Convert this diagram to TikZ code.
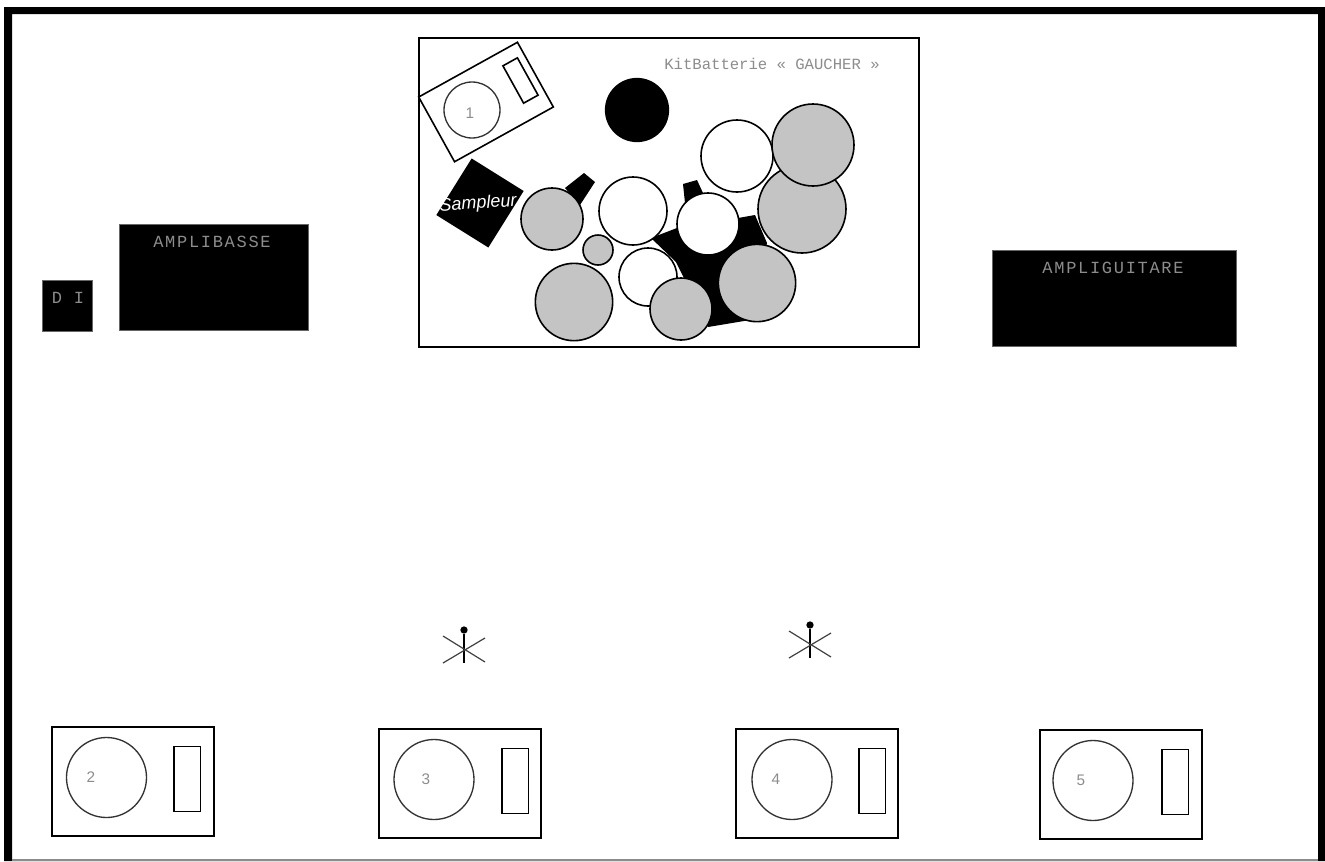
\documentclass[tikz,border=0pt]{standalone}
\usepackage{fontspec}
\usepackage{xcolor}
\usetikzlibrary{positioning}
\setmainfont{Liberation Serif}
\setsansfont{Liberation Sans}
\newfontfamily\ampfont[LetterSpace=10]{Liberation Mono}
\newfontfamily\kitfont{Liberation Mono}
\definecolor{drumgray}{HTML}{C4C4C4}
\definecolor{labelgray}{HTML}{8C8C8C}

\begin{document}
\begin{tikzpicture}[x=0.75pt,y=-0.75pt,line width=1.2pt,font=\fontsize{10.5pt}{12pt}\selectfont]
    \tikzstyle{disc}=[circle,draw,inner sep=0pt,line width=1.2pt]
    \tikzstyle{whitedrum}=[disc,fill=white]
    \tikzstyle{graydrum}=[disc,fill=drumgray]
    \tikzstyle{amp}=[fill=black,draw=black!60,line width=0.5pt,anchor=north west,inner sep=0pt]
    \tikzstyle{amptext}=[text=labelgray,font=\ampfont\fontsize{12.75pt}{14pt}\selectfont]
    \tikzstyle{num}=[text=labelgray,inner sep=0pt,font=\sffamily\fontsize{11.5pt}{13pt}\selectfont]
    \tikzstyle{cabinet}=[draw,line width=1.3pt,anchor=north west,inner sep=0pt,minimum width=121.5pt,minimum height=82pt]
    \tikzstyle{cone}=[circle,draw=black!80,inner sep=0pt,minimum size=60pt,line width=1pt]
    \tikzstyle{slot}=[draw,line width=1.3pt,anchor=north west,inner sep=0pt,minimum width=20pt,minimum height=48.75pt]
    % page and outer frame
    \useasboundingbox (0,0) rectangle (1325,861);
    \fill[black,even odd rule] (4,7) rectangle (1325,861) (12,14) rectangle (1318,861);
    \fill[black!45] (12,859) rectangle (1318,861);
    % drum kit
    \node[draw,line width=1.4pt,anchor=north west,inner sep=0pt,minimum width=375pt,minimum height=232pt] (kit) at (418,37) {};
    \node[text=labelgray,font=\kitfont\fontsize{11.7pt}{13pt}\selectfont] (kittitle) at (772,64) {KitBatterie « GAUCHER »};
    % sidefill on the riser
    \node[draw,rotate=29,inner sep=0pt,minimum width=84.7pt,minimum height=55.5pt] (side) at (486,102) {};
    \node[cone,minimum size=42pt] (sidecone) at (472,110) {};
    \node[num] (sidenum) at (470,113) {1};
    \node[draw,rotate=29,inner sep=0pt,minimum width=12.4pt,minimum height=32pt] (sideslot) at (520.5,80.5) {};
    % sampler
    \node[fill=black,rotate=-32,inner sep=0pt,minimum width=46pt,minimum height=50pt] (samp) at (480,203) {};
    \node[text=white,rotate=4,font=\sffamily\itshape\fontsize{13.5pt}{15pt}\selectfont] (samptext) at (478,204) {Sampleur};
    % hardware under the drums
    \fill (565,188) -- (584,173) -- (595,182) -- (580,205) -- cycle;
    \fill (683,184) -- (697,180) -- (703,193) -- (685,203) -- cycle;
    \fill (651,238) -- (677,228) -- (738,218) -- (755,215) -- (767,243) -- (750,320) -- (708,327) -- (676,262) -- cycle;
    \node[disc,fill=black,minimum size=47pt] (crash) at (637,110) {};
    \node[graydrum,minimum size=46.5pt] (tomA) at (552,219) {};
    \node[whitedrum,minimum size=51pt] (tomB) at (633,211) {};
    \node[graydrum,minimum size=22.5pt] (splash) at (598,250) {};
    \node[graydrum,minimum size=58pt] (floorA) at (574,302) {};
    \node[whitedrum,minimum size=43.5pt] (snare) at (648,277) {};
    \node[graydrum,minimum size=46.5pt] (hat) at (681,309) {};
    \node[whitedrum,minimum size=46.5pt] (tomC) at (708,224) {};
    \node[whitedrum,minimum size=54pt] (tomD) at (737,156) {};
    \node[graydrum,minimum size=66pt] (cymA) at (802,209) {};
    \node[graydrum,minimum size=61.5pt] (cymB) at (813,145) {};
    \node[graydrum,minimum size=58pt] (cymC) at (757,283) {};
    % amps
    \node[amp,minimum width=37.5pt,minimum height=38pt] (di) at (42,280) {};
    \node[amptext] (ditext) at (68,298) {D I};
    \node[amp,minimum width=141.75pt,minimum height=79.5pt] (bass) at (119,224) {};
    \node[amptext] (basstext) at (212,242) {AMPLIBASSE};
    \node[amp,minimum width=183pt,minimum height=72pt] (guitar) at (992,250) {};
    \node[amptext] (guitartext) at (1113,268) {AMPLIGUITARE};
    % wedges
    \foreach \n/\x/\y/\cx/\sx/\lx in {2/51/726/106.5/173/91,3/378/728/434/501/426,4/735/728/792/858/776,5/1039/729/1093/1161/1081} {
      \node[cabinet] (cab\n) at (\x,\y) {};
      \node[cone] (cone\n) at (\cx,\y+51.5) {};
      \node[slot] (slot\n) at (\sx,\y+19.5) {};
      \node[num] (num\n) at (\lx,\y+51) {\n};
    }
    % mics
    \foreach \m/\x/\y in {A/464/630,B/810/625} {
      \node[circle,fill=black,inner sep=0pt,minimum size=5.5pt] (mic\m) at (\x,\y) {};
      \coordinate (foot\m) at (\x,\y+33);
      \draw[line width=2.2pt] (mic\m) -- (foot\m);
      \draw[line width=0.9pt,black!75] (\x-21,\y+6) -- (\x+21,\y+32);
      \draw[line width=0.9pt,black!75] (\x-21,\y+33) -- (\x+21,\y+8);
    }
\end{tikzpicture}
\end{document}
